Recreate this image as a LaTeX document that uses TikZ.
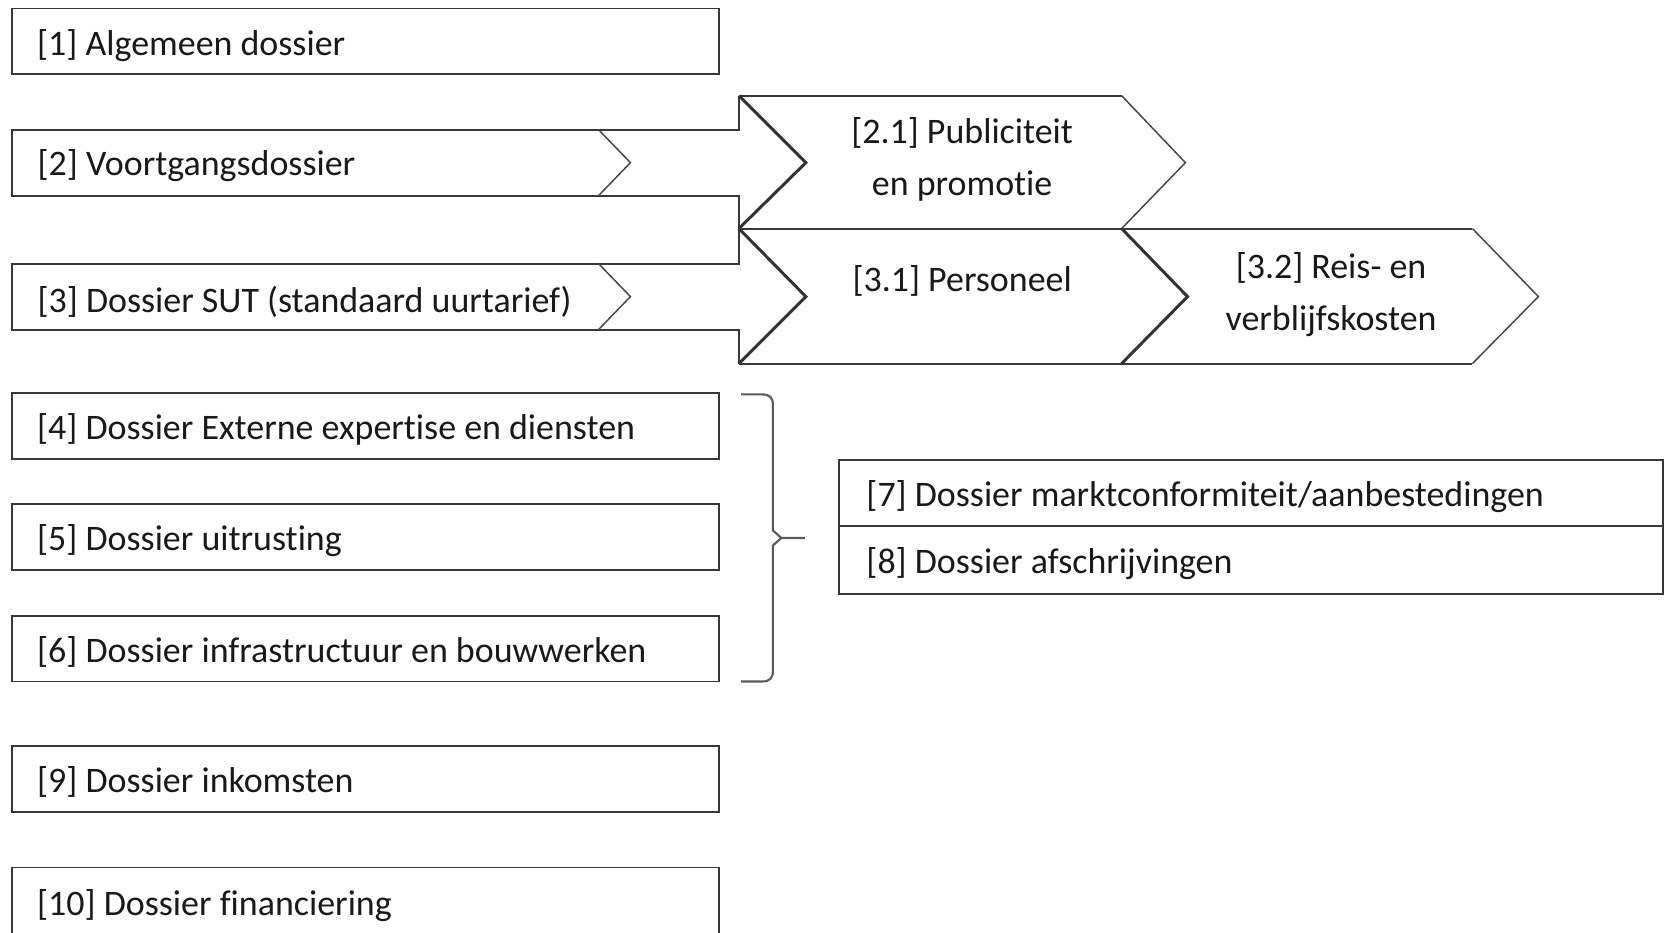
\documentclass[tikz,border=0pt]{standalone}
\usepackage{fontspec}
\setmainfont{Carlito}[Ligatures=NoCommon]
\begin{document}
\begin{tikzpicture}[x=0.5pt,y=-0.5pt,
  line join=miter,
  ol/.style={draw=black!78, line width=0.9pt},
  thinl/.style={draw=black!72, line width=0.7pt},
  thickl/.style={draw=black!80, line width=1.4pt},
  box/.style={ol, rectangle, minimum width=332.5pt, minimum height=31pt, text width=308.5pt, inner xsep=12pt, inner ysep=0pt, align=flush left, text height=14.8pt, text depth=2pt, font=\fontsize{16.9}{24}\selectfont, text=black!90},
  lbl/.style={align=center, font=\fontsize{16.9}{24.5}\selectfont, text=black!90, inner sep=0pt}]
\useasboundingbox (0,0) rectangle (1568,877);
% plain boxes
\node[box] (b1) at (343.5,39) {[1] Algemeen dossier};
\node[box] (b4) at (343.5,401) {[4] Dossier Externe expertise en diensten};
\node[box] (b5) at (343.5,505) {[5] Dossier uitrusting};
\node[box] (b6) at (343.5,610) {[6] Dossier infrastructuur en bouwwerken};
\node[box] (b9) at (343.5,732.5) {[9] Dossier inkomsten};
\node[box, minimum height=32pt] (b10) at (343.5,848) {[10] Dossier financiering};
% boxes 7 and 8
\node[box, minimum width=387.5pt, text width=361.5pt, inner xsep=13pt] (b7) at (1176.5,464) {[7] Dossier marktconformiteit/aanbestedingen};
\node[box, minimum width=387.5pt, text width=361.5pt, inner xsep=13pt, minimum height=32pt] (b8) at (1176.5,527) {[8] Dossier afschrijvingen};
% row 2 shaft
\draw[ol] (695,90) -- (695,122) -- (11,122) -- (11,184) -- (695,184) -- (695,215);
\draw[thinl] (563,122) -- (593,153) -- (563,184);
\node[lbl, anchor=west] (b2) at (35,156) {[2] Voortgangsdossier};
% row 3 shaft
\draw[ol] (695,215) -- (695,248) -- (11,248) -- (11,310) -- (695,310) -- (695,342);
\draw[thinl] (563,248) -- (593,279) -- (563,310);
\node[lbl, anchor=west] (b3) at (35,284) {[3] Dossier SUT (standaard uurtarief)};
% chevron 2.1
\draw[ol] (695,90) -- (1055,90);
\draw[thinl] (1055,90) -- (1115,153) -- (1055,215);
\draw[ol] (695,215) -- (1385,215);
\draw[thickl] (695,90) -- (758,153) -- (695,215);
\node[lbl] (c21) at (905,150) {[2.1] Publiciteit\\en promotie};
% chevron 3.1
\draw[thickl] (695,215) -- (758,279) -- (695,342);
\draw[ol] (695,342) -- (1385,342);
\draw[thickl] (1055,215) -- (1117,279) -- (1055,342);
\node[lbl] (c31) at (905,264) {[3.1] Personeel};
% chevron 3.2
\draw[thinl] (1385,215) -- (1447,279) -- (1385,342);
\node[lbl] (c32) at (1252,277.5) {[3.2] Reis- en\\verblijfskosten};
% brace
\draw[thinl, draw=black!65, line width=1pt] (697,371) -- (717,371) .. controls (724,371) and (727,374) .. (727,381) -- (727,499)
  -- (735,506) -- (757,506);
\draw[thinl, draw=black!65, line width=1pt] (735,506) -- (727,513) -- (727,631)
  .. controls (727,638) and (724,641) .. (717,641) -- (697,641);
\end{tikzpicture}
\end{document}
